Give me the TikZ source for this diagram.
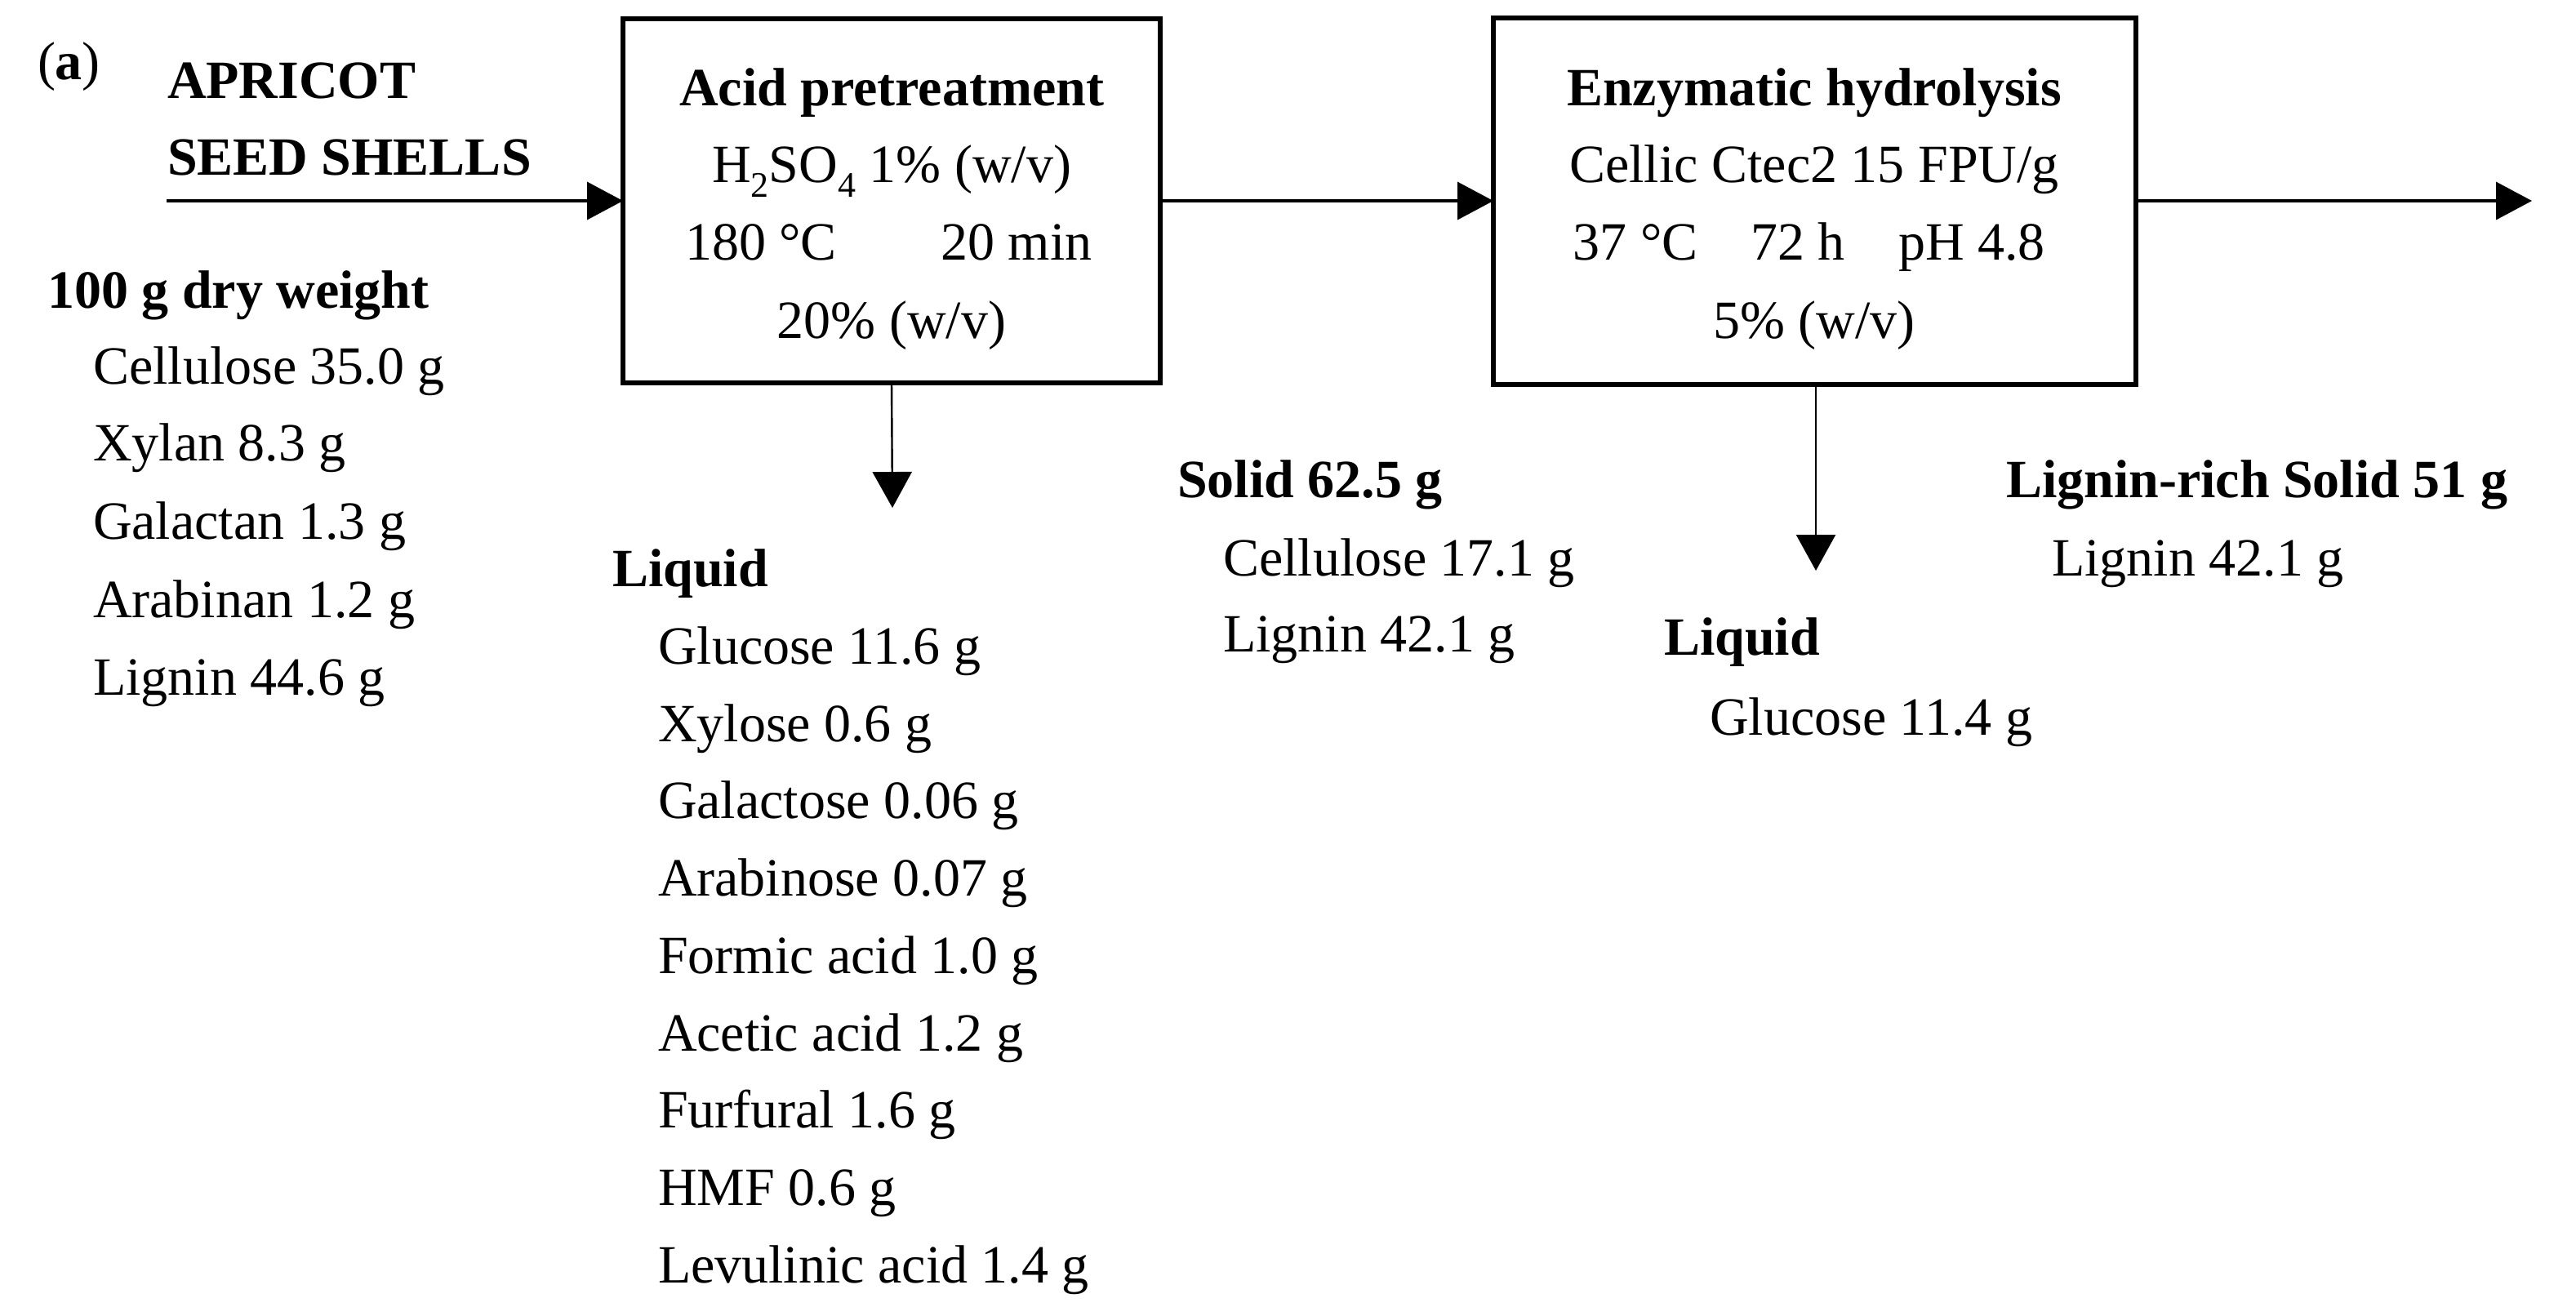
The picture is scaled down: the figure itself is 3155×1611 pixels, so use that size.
\documentclass[tikz,border=0pt]{standalone}
\usepackage{fontspec}
\setmainfont{Liberation Serif}
\usetikzlibrary{arrows.meta}
\newcommand{\lowsub}[1]{\raisebox{-4.5pt}{\fontsize{11}{11}\selectfont #1}}
\begin{document}
\begin{tikzpicture}[x=0.25pt,y=-0.25pt,
  every node/.style={inner sep=0pt, outer sep=0pt, font=\fontsize{16.5}{19.8}\selectfont},
  lbl/.style={anchor=base west},
  ctr/.style={anchor=base},
  hd/.style={anchor=base west, font=\fontsize{16.5}{19.8}\selectfont\bfseries},
  hdc/.style={anchor=base, font=\fontsize{16.5}{19.8}\selectfont\bfseries},
  procbox/.style={draw, line width=1.5pt},
  arr/.style={-{Triangle[length=11pt,width=11.5pt]}, line width=0.9pt},
  darr/.style={-{Triangle[length=11pt,width=12pt]}, line width=0.6pt}
]
\fill[white] (0,0) rectangle (3155,1611);
\useasboundingbox (0,0) rectangle (3155,1611);

% process boxes
\node[procbox, minimum width=164.5pt, minimum height=111.5pt] (acid) at (1092,246) {};
\node[procbox, minimum width=196.75pt, minimum height=112.25pt] (enz) at (2222.5,246) {};

% box 1 text
\node[hdc] (acidT) at (1092,129) {Acid pretreatment};
\node[ctr] (acid1) at (1092,223) {H\lowsub{2}SO\lowsub{4} 1\% (w/v)};
\node[ctr] (acid2a) at (932,318) {180 °C};
\node[ctr] (acid2b) at (1245,318) {20 min};
\node[ctr] (acid3) at (1092,414) {20\% (w/v)};

% box 2 text
\node[hdc] (enzT) at (2222,129) {Enzymatic hydrolysis};
\node[ctr] (enz1) at (2222,223) {Cellic Ctec2 15 FPU/g};
\node[ctr] (enz2a) at (2003,318) {37 °C};
\node[ctr] (enz2b) at (2202,318) {72 h};
\node[ctr] (enz2c) at (2415,318) {pH 4.8};
\node[ctr] (enz3) at (2222,414) {5\% (w/v)};

% feed
\node[lbl] (tag) at (46,97) {(\textbf{a})};
\node[hd] (src1) at (205,120) {APRICOT};
\node[hd] (src2) at (205,214) {SEED SHELLS};
\node[hd] (dw) at (58,377) {100 g dry weight};
\node[lbl] (f1) at (114,470) {Cellulose 35.0 g};
\node[lbl] (f2) at (114,564) {Xylan 8.3 g};
\node[lbl] (f3) at (114,660) {Galactan 1.3 g};
\node[lbl] (f4) at (114,756) {Arabinan 1.2 g};
\node[lbl] (f5) at (114,851) {Lignin 44.6 g};

% liquid 1
\node[hd] (liq1) at (750,718) {Liquid};
\node[lbl] (l1) at (806,813) {Glucose 11.6 g};
\node[lbl] (l2) at (806,908) {Xylose 0.6 g};
\node[lbl] (l3) at (806,1002) {Galactose 0.06 g};
\node[lbl] (l4) at (806,1097) {Arabinose 0.07 g};
\node[lbl] (l5) at (806,1192) {Formic acid 1.0 g};
\node[lbl] (l6) at (806,1287) {Acetic acid 1.2 g};
\node[lbl] (l7) at (806,1381) {Furfural 1.6 g};
\node[lbl] (l8) at (806,1476) {HMF 0.6 g};
\node[lbl] (l9) at (806,1571) {Levulinic acid 1.4 g};

% solid 1
\node[hd] (sol1) at (1442,609) {Solid 62.5 g};
\node[lbl] (s1) at (1498,705) {Cellulose 17.1 g};
\node[lbl] (s2) at (1498,798) {Lignin 42.1 g};

% liquid 2
\node[hd] (liq2) at (2038,802) {Liquid};
\node[lbl] (g1) at (2094,900) {Glucose 11.4 g};

% lignin-rich solid
\node[hd] (sol2) at (2457,609) {Lignin-rich Solid 51 g};
\node[lbl] (r1) at (2513,705) {Lignin 42.1 g};

% connectors
\coordinate (feed) at (204,246);
\coordinate (outp) at (3101,246);
\coordinate (liq1tip) at (1093,622);
\coordinate (liq2tip) at (2224,699);
\draw[arr] (feed) -- (acid.west);
\draw[arr] (acid.east) -- (enz.west);
\draw[arr] (enz.east) -- (outp);
\draw[darr] (acid.south) -- (liq1tip);
\draw[darr] (enz.south -| liq2tip) -- (liq2tip);
\end{tikzpicture}
\end{document}
